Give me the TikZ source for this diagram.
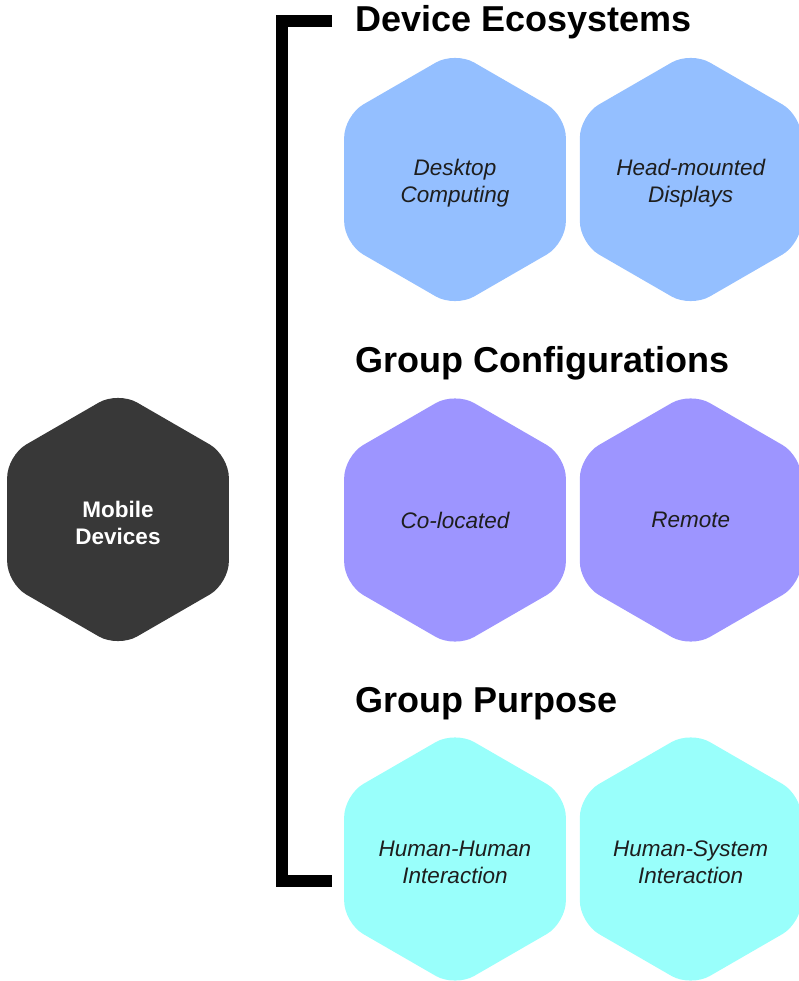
\documentclass[tikz,border=0pt]{standalone}
\usepackage{fontspec}
\setmainfont{Liberation Sans}
\usetikzlibrary{shapes}
\usetikzlibrary{positioning}

\definecolor{ecoblue}{HTML}{94BFFF}
\definecolor{cfgpurple}{HTML}{9D95FF}
\definecolor{purpcyan}{HTML}{99FFFB}
\definecolor{mobdark}{HTML}{383838}
\definecolor{hextext}{HTML}{1E1E1E}

% drop a line of a hexagon label a little, keeping its box
\newcommand{\lwr}[1]{\raisebox{-3.5pt}[\height][\depth]{#1}}

\begin{document}
\begin{tikzpicture}[x=1pt,y=-1pt]
        \useasboundingbox (0,0) rectangle (799,981);
        \tikzset{hexa/.style={regular polygon, regular polygon sides=6,
                shape border rotate=30, minimum size=256pt, inner sep=0pt,
                outer sep=0pt, rounded corners=22pt, align=center, text=hextext,
                font=\fontsize{22.5}{27}\selectfont\itshape}}
        % root
        \node[hexa, fill=mobdark, text=white,
            font=\fontsize{22.5}{27}\selectfont\bfseries] (mobile) at (118, 519.5) {\lwr{Mobile}\\\lwr{Devices}};
        % headings
        \begin{scope}[every node/.style={anchor=base west,inner sep=0pt,
                font=\fontsize{36}{43}\selectfont\bfseries}]
            \node (eco) at (355, 32) {Device Ecosystems};
            \node (cfg) at (355, 372) {Group Configurations};
            \node (purp) at (355, 712) {Group Purpose};
        \end{scope}
        % hexagons
        \begin{scope}[every node/.style={hexa}]
            \node[fill=ecoblue] (desk) at (455, 179.5) {\lwr{Desktop}\\\lwr{Computing}};
            \node[fill=ecoblue, right = 14pt of desk] (hmd) {\lwr{Head-mounted}\\\lwr{Displays}};
            \node[fill=cfgpurple] (coloc) at (455, 520) {Co-located};
            \node[fill=cfgpurple, right = 14pt of coloc] (remote) {Remote};
            \node[fill=purpcyan] (hh) at (455, 859) {\lwr{Human-Human}\\\lwr{Interaction}};
            \node[fill=purpcyan, right = 14pt of hh] (hs) {\lwr{Human-System}\\\lwr{Interaction}};
        \end{scope}
        % bracket
        \coordinate (brtop) at (332, 21);
        \coordinate (brbot) at (332, 881);
        \draw[line width=12pt, miter limit=10] (brtop) -- ++(-50,0) |- (brbot);
    \end{tikzpicture}
\end{document}
